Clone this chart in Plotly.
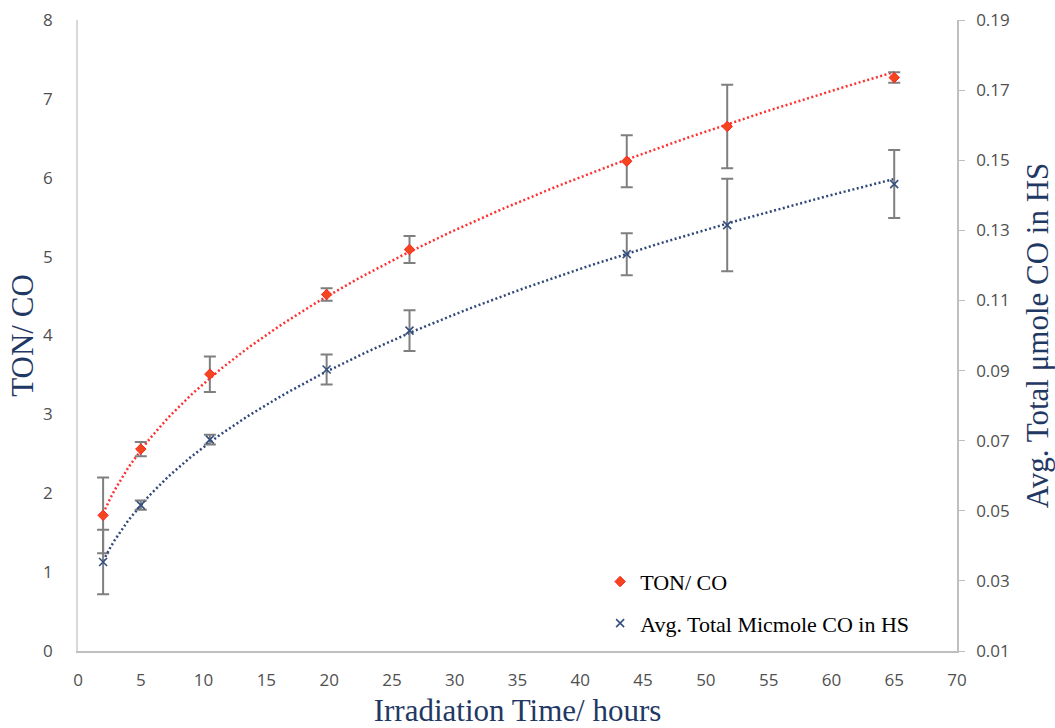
import numpy as np
import plotly.graph_objects as go

# Data
hours = [2, 5, 10.5, 19.8, 26.4, 43.7, 51.7, 65]
ton_co = [1.72, 2.56, 3.51, 4.52, 5.09, 6.21, 6.65, 7.27]
ton_err = [0.48, 0.09, 0.225, 0.08, 0.17, 0.33, 0.53, 0.067]
micmole_co = [0.0354, 0.0516, 0.0703, 0.0903, 0.1014, 0.1232, 0.1315, 0.1432]
micmole_err = [0.0092, 0.0013, 0.0014, 0.0043, 0.0058, 0.0060, 0.0132, 0.0097]

x_ticks = list(range(0, 71, 5))
left_ticks = list(range(0, 9))
right_ticks = [0.01, 0.03, 0.05, 0.07, 0.09, 0.11, 0.13, 0.15, 0.17, 0.19]


def power_fit(x, y):
    b, ln_a = np.polyfit(np.log(x), np.log(y), 1)
    xs = np.linspace(min(x), max(x), 200)
    return xs, np.exp(ln_a) * xs ** b


fig = go.Figure()

# Trendlines (power fits, like the spreadsheet trendlines)
tx, ty = power_fit(hours, ton_co)
fig.add_trace(go.Scatter(x=tx, y=ty, mode="lines", showlegend=False, hoverinfo="skip",
                         line=dict(color="#FF3030", width=2.5, dash="2px,2.5px")))
mx, my = power_fit(hours, micmole_co)
fig.add_trace(go.Scatter(x=mx, y=my, mode="lines", showlegend=False, hoverinfo="skip",
                         yaxis="y2",
                         line=dict(color="#2F4778", width=2.5, dash="2px,2.5px")))

fig.add_trace(go.Scatter(
    x=hours, y=ton_co, mode="markers", name="TON/ CO", legendgroup="a",
    marker=dict(symbol="diamond", size=8, color="#F4461E", line=dict(color="#FF2020", width=1)),
    error_y=dict(type="data", array=ton_err, visible=True, color="#7F7F7F", thickness=2, width=6),
))
fig.add_trace(go.Scatter(
    x=hours, y=micmole_co, mode="markers", name="Avg. Total Micmole CO in HS", legendgroup="b",
    yaxis="y2",
    marker=dict(symbol="x-thin", size=8, color="#34507F", line=dict(color="#34507F", width=1.6)),
    error_y=dict(type="data", array=micmole_err, visible=True, color="#7F7F7F", thickness=2, width=6),
))

title_font = dict(family="Liberation Serif", size=31, color="#1F3864")
tick_font = dict(family="Open Sans", size=17, color="#505050")

fig.update_layout(
    width=1055, height=728,
    margin=dict(l=78, r=98, t=20, b=77),
    paper_bgcolor="white", plot_bgcolor="white",
    xaxis=dict(range=[0, 70], tickvals=x_ticks, showgrid=False, zeroline=False,
               showline=True, linecolor="#BFBFBF", linewidth=1.5, ticks="",
               tickfont=tick_font, ticklabelstandoff=13, automargin=False,
               title=dict(text="Irradiation Time/ hours", font=title_font, standoff=12)),
    yaxis=dict(range=[0, 8], tickvals=left_ticks, showgrid=False, zeroline=False,
               showline=True, linecolor="#D9D9D9", linewidth=1.5, ticks="",
               tickfont=tick_font, ticklabelstandoff=20, automargin=False,
               title=dict(text="TON/ CO", font=title_font, standoff=0)),
    yaxis2=dict(range=[0.01, 0.19], tickvals=right_ticks, tickformat=".2f",
                overlaying="y", side="right", showgrid=False, zeroline=False,
                showline=True, linecolor="#BFBFBF", linewidth=1.5,
                ticks="outside", ticklen=6, tickcolor="#BFBFBF",
                tickfont=tick_font, ticklabelstandoff=8, automargin=False,
                title=dict(text="Avg. Total μmole CO in HS", font=title_font, standoff=22)),
    legend=dict(x=0.594, y=0.143, xanchor="left", yanchor="top",
                font=dict(family="Liberation Serif", size=22, color="#000000"),
                bgcolor="rgba(0,0,0,0)", tracegroupgap=10),
    showlegend=True,
)

fig.write_html("out.html")
